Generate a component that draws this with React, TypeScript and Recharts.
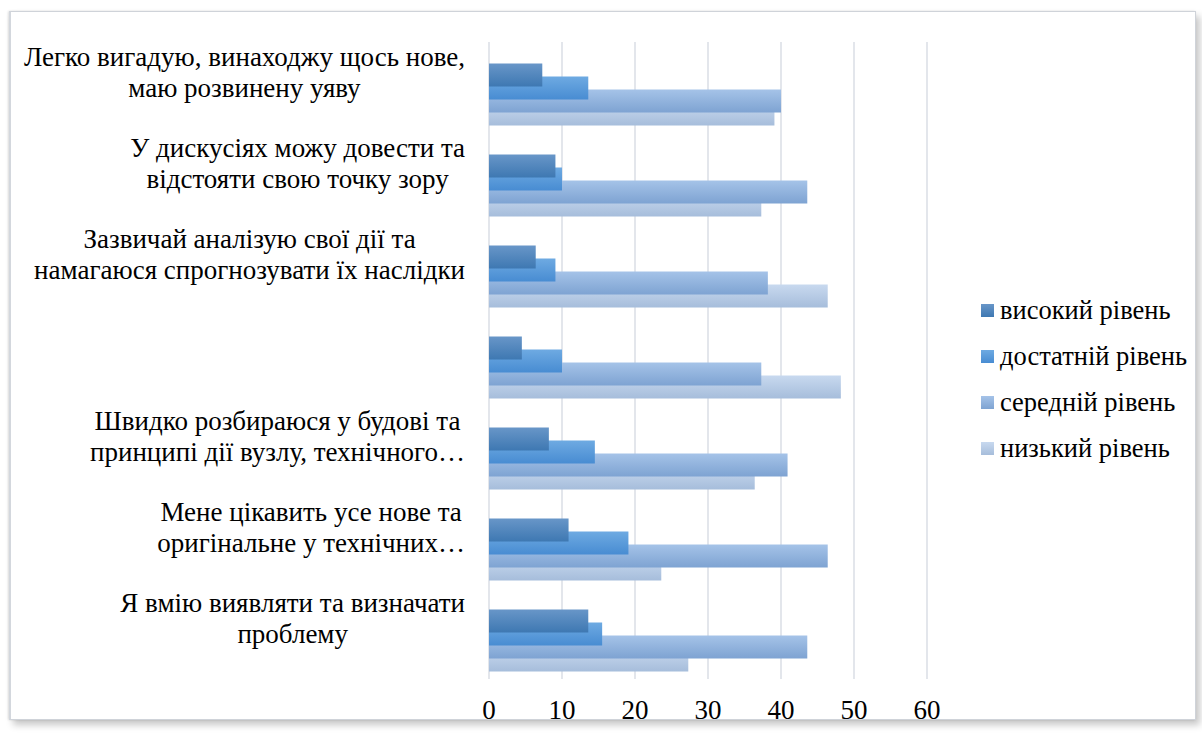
import React from 'react';
import { BarChart, Bar, XAxis, YAxis, CartesianGrid, Legend } from 'recharts';

// Category labels (each split into the two lines shown on the axis)
const tickLines: string[][] = [
  ['Легко вигадую, винаходжу щось нове,', 'маю розвинену уяву'],
  ['У дискусіях можу довести та', 'відстояти свою точку зору'],
  ['Зазвичай аналізую свої дії та', 'намагаюся спрогнозувати їх наслідки'],
  [],
  ['Швидко розбираюся у будові та', 'принципі дії вузлу, технічного…'],
  ['Мене цікавить усе нове та', 'оригінальне у технічних…'],
  ['Я вмію виявляти та визначати', 'проблему'],
];
const categories = tickLines.map((l, i) => (l.length ? l.join(' ') : `#${i}`));

// Series values (%)
const highLevel = [7.3, 9.1, 6.4, 4.5, 8.2, 10.9, 13.6];
const sufficientLevel = [13.6, 10.0, 9.1, 10.0, 14.5, 19.1, 15.5];
const mediumLevel = [40.0, 43.6, 38.2, 37.3, 40.9, 46.4, 43.6];
const lowLevel = [39.1, 37.3, 46.4, 48.2, 36.4, 23.6, 27.3];

const xTicks = [0, 10, 20, 30, 40, 50, 60];

const seriesNames: Record<string, string> = {
  high: 'високий рівень',
  suff: 'достатній рівень',
  mid: 'середній рівень',
  low: 'низький рівень',
};
const gradTop: Record<string, string> = {
  high: '#6896c8',
  suff: '#6eaae2',
  mid: '#a5c3e8',
  low: '#c8d9ef',
};
const gradBottom: Record<string, string> = {
  high: '#3e78b2',
  suff: '#488cd2',
  mid: '#7ea3d2',
  low: '#a6bddb',
};
const legendOrder = ['high', 'suff', 'mid', 'low'];

const data = categories.map((name, i) => ({
  name,
  high: highLevel[i],
  suff: sufficientLevel[i],
  mid: mediumLevel[i],
  low: lowLevel[i],
}));

const FONT = '"Liberation Serif", "Times New Roman", serif';
const FONT_SIZE = 27;
const LEGEND_FONT_SIZE = 26.5;

let measureCtx: CanvasRenderingContext2D | null = null;
function measure(t: string): number {
  if (!measureCtx) {
    const c = document.createElement('canvas');
    measureCtx = c.getContext('2d');
  }
  if (!measureCtx) return t.length * 12;
  measureCtx.font = `${FONT_SIZE}px "Liberation Serif"`;
  return measureCtx.measureText(t).width;
}

const lineOffsets = [-28, 3];

const CategoryTick = (props: any) => {
  const { x, y, payload } = props;
  const idx = categories.indexOf(payload?.value);
  const lines = idx >= 0 ? tickLines[idx] : [];
  if (!lines.length) return <g />;
  const w = Math.max(...lines.map(measure));
  const cx = x - w / 2;
  return (
    <g>
      {lines.map((l, i) => (
        <text
          key={i}
          x={cx}
          y={y + lineOffsets[i]}
          textAnchor="middle"
          fontFamily={FONT}
          fontSize={FONT_SIZE}
          fill="#000"
        >
          {l}
        </text>
      ))}
    </g>
  );
};

const renderLegend = (props: any) => {
  const payload: any[] = props.payload || [];
  const ordered = legendOrder
    .map((k) => payload.find((p) => p.dataKey === k))
    .filter(Boolean);
  return (
    <div style={{ fontFamily: FONT, fontSize: LEGEND_FONT_SIZE, color: '#000' }}>
      {ordered.map((p: any) => (
        <div
          key={p.dataKey}
          style={{ display: 'flex', alignItems: 'center', height: 46, lineHeight: '26px' }}
        >
          <span
            style={{
              display: 'inline-block',
              width: 13,
              height: 13,
              marginRight: 6,
              background: `linear-gradient(${gradTop[p.dataKey]}, ${gradBottom[p.dataKey]})`,
            }}
          />
          <span>{p.value}</span>
        </div>
      ))}
    </div>
  );
};

export default function App() {
  return (
    <div style={{ position: 'absolute', left: 0, top: 0, width: 1202, height: 734, background: '#fff', overflow: 'hidden' }}>
      <div
        style={{
          position: 'absolute',
          left: 9,
          top: 11,
          width: 1184,
          height: 707,
          border: '1px solid #cfd3d9',
          borderLeft: '2px solid #d3d7dd',
          background: '#fff',
          boxShadow: '-1px 0 2px rgba(0,0,0,0.12), 4px 5px 7px rgba(0,0,0,0.22)',
        }}
      />
      <div style={{ position: 'absolute', left: 0, top: 0 }}>
        <BarChart
          width={1202}
          height={734}
          data={data}
          layout="vertical"
          margin={{ top: 42, right: 275, bottom: 0, left: 9 }}
          barSize={23}
          barGap={-36}
        >
          <defs>
            {legendOrder.map((k) => (
              <linearGradient key={k} id={`grad-${k}`} x1="0" y1="0" x2="0" y2="1">
                <stop offset="0%" stopColor={gradTop[k]} />
                <stop offset="100%" stopColor={gradBottom[k]} />
              </linearGradient>
            ))}
          </defs>
          <CartesianGrid horizontal={false} stroke="#dce0e7" strokeWidth={1.6} />
          <XAxis
            type="number"
            domain={[0, 60]}
            ticks={xTicks}
            axisLine={false}
            tickLine={false}
            tickSize={0}
            tickMargin={21}
            height={55}
            tick={{ fontSize: FONT_SIZE, fontFamily: FONT, fill: '#000' }}
          />
          <YAxis
            type="category"
            dataKey="name"
            width={480}
            axisLine={false}
            tickLine={false}
            tickSize={0}
            tickMargin={24}
            interval={0}
            padding={{ top: 6.5, bottom: -6.5 }}
            tick={<CategoryTick />}
          />
          <Legend
            layout="vertical"
            align="center"
            verticalAlign="middle"
            content={renderLegend}
            wrapperStyle={{ left: 981, top: 287, width: 220 }}
          />
          <Bar dataKey="low" name={seriesNames.low} fill="url(#grad-low)" isAnimationActive={false} />
          <Bar dataKey="mid" name={seriesNames.mid} fill="url(#grad-mid)" isAnimationActive={false} />
          <Bar dataKey="suff" name={seriesNames.suff} fill="url(#grad-suff)" isAnimationActive={false} />
          <Bar dataKey="high" name={seriesNames.high} fill="url(#grad-high)" isAnimationActive={false} />
        </BarChart>
      </div>
    </div>
  );
}
